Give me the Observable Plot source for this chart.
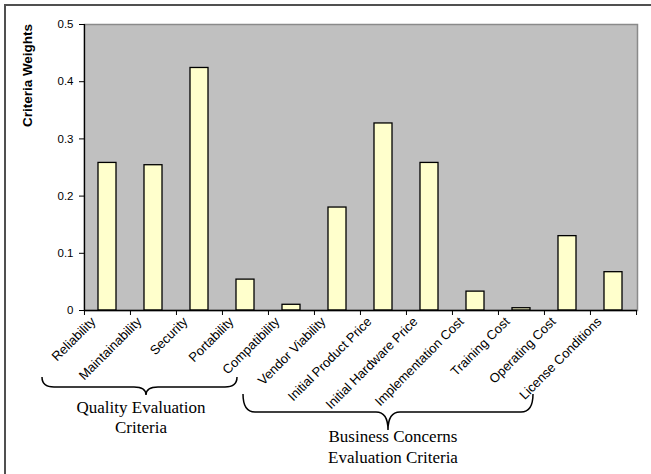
<!DOCTYPE html>
<html><head><meta charset="utf-8">
<script src="https://cdn.jsdelivr.net/npm/d3@7"></script>
<script src="https://cdn.jsdelivr.net/npm/@observablehq/plot@0.6"></script>
<style>body{margin:0;background:#fff;} #chart svg{display:block}</style>
</head><body><div id="chart"></div>
<script>
const categories = ["Reliability","Maintainability","Security","Portability","Compatibility","Vendor Viability","Initial Product Price","Initial Hardware Price","Implementation Cost","Training Cost","Operating Cost","License Conditions"];
const weights = [0.258,0.254,0.424,0.054,0.010,0.180,0.327,0.258,0.033,0.004,0.130,0.067];
const yTicks = [0,0.1,0.2,0.3,0.4,0.5];
const yTickLabels = ["0","0.1","0.2","0.3","0.4","0.5"];
const yLabel = "Criteria Weights";
const groupLines = [["Quality Evaluation","Criteria"],["Business Concerns","Evaluation Criteria"]];

const data = categories.map((c,i)=>({category:c, weight:weights[i]}));
const W = 651, H = 474, ML = 84, MR = 14, MT = 24, MB = 164;
const half = (W - ML - MR) / categories.length / 2;
const sans = "'Liberation Sans', Arial, sans-serif";

const plot = Plot.plot({
  width: W, height: H,
  marginLeft: ML, marginRight: MR, marginTop: MT, marginBottom: MB,
  style: {fontFamily: sans, fontSize: "11px", background: "white", overflow: "visible", color: "black"},
  x: {domain: categories, paddingInner: 0.6, paddingOuter: 0.3, label: null, axis: null},
  y: {domain: [0, 0.5], label: null, axis: null},
  marks: [
    Plot.frame({fill: "#c0c0c0", stroke: "#8a8a8a", strokeWidth: 1.5}),
    Plot.barY(data, {x: "category", y: "weight", fill: "#ffffcc", stroke: "black", strokeWidth: 1.3}),
    Plot.ruleY([0], {stroke: "black", strokeWidth: 1.3}),
    Plot.ruleX([categories[0]], {dx: -half, stroke: "black", strokeWidth: 1.3}),
    Plot.axisY({ticks: yTicks, tickFormat: (d) => yTickLabels[yTicks.indexOf(d)], tickSize: 5, tickPadding: 6, label: null, stroke: "black", fill: "black", fontSize: 11.5}),
    Plot.axisX({tickSize: 5, fill: "none", dx: -half, label: null, stroke: "black"}),
    Plot.axisX({ticks: [categories[categories.length-1]], tickSize: 5, fill: "none", dx: half, label: null, stroke: "black"}),
    Plot.axisX({tickSize: 0, tickRotate: -45, tickPadding: 6, dx: -14, dy: 3, label: null, fill: "black", fontSize: 13})
  ]
});
document.getElementById("chart").appendChild(plot);

const svg = d3.select(plot);
const xs = plot.scale("x");
const cx = (c) => xs.apply(c) + xs.bandwidth / 2;

// outer frame
svg.append("path").attr("d", `M5,${H} L5,5 L${W},5`).attr("fill","none").attr("stroke","#505050").attr("stroke-width",2);

// y label
svg.append("text").attr("transform", "translate(32,75.5) rotate(-90)").attr("text-anchor","middle")
  .attr("font-family", sans).attr("font-weight","bold").attr("font-size","13px")
  .attr("textLength", 103).attr("lengthAdjust", "spacingAndGlyphs").text(yLabel);

// braces
function brace(x0, x1, xm, yt, ym, yb) {
  const r = 12;
  return `M${x0},${yt} Q${x0},${ym} ${x0+r},${ym} L${xm-r},${ym} Q${xm},${ym} ${xm},${yb} Q${xm},${ym} ${xm+r},${ym} L${x1-r},${ym} Q${x1},${ym} ${x1},${yt}`;
}
const braces = [
  {x0: cx(categories[0]) - 65, x1: cx(categories[4]) - 54, xm: cx(categories[0]) + 39, yt: 377, ym: 387, yb: 395, tx: cx(categories[0]) + 34, ty: [413, 433]},
  {x0: cx(categories[4]) - 48, x1: cx(categories[11]) - 80, xm: cx(categories[6]) + 5, yt: 394, ym: 412, yb: 430, tx: cx(categories[6]) + 10, ty: [442, 463]}
];
braces.forEach((b, i) => {
  svg.append("path").attr("d", brace(b.x0, b.x1, b.xm, b.yt, b.ym, b.yb)).attr("fill","none").attr("stroke","black").attr("stroke-width",1.5);
  groupLines[i].forEach((line, j) => {
    svg.append("text").attr("x", b.tx).attr("y", b.ty[j]).attr("text-anchor","middle")
      .attr("font-family","'Liberation Serif', 'Times New Roman', serif").attr("font-size","17px").text(line);
  });
});
</script>
</body></html>
